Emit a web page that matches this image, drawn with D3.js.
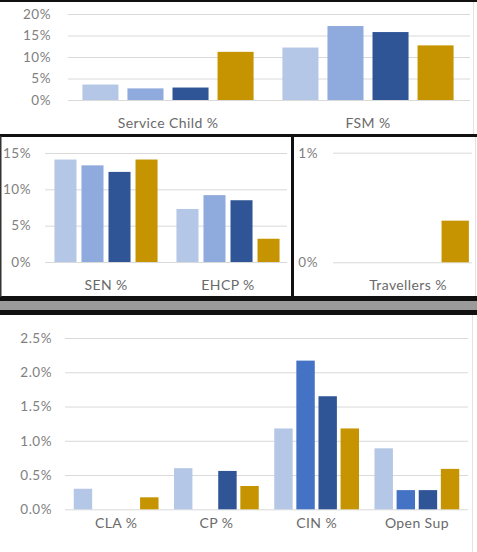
<!DOCTYPE html>
<html>
<head>
<meta charset="utf-8">
<script src="https://cdn.jsdelivr.net/npm/d3@7"></script>
<style>
  html, body { margin: 0; padding: 0; background: #fff; }
  svg { display: block; }
  text { font-family: Lato, "Open Sans", sans-serif; }
</style>
</head>
<body>
<svg id="chart" width="477" height="552"></svg>
<script>
// Four series per category: three comparison groups (blues) and the school (gold)
const seriesNames = ["Group A", "Group B", "Group C", "School"];

// Pupil characteristics
const pupilCategories = ["Service Child %", "FSM %"];
const pupilValues = [[3.6, 2.7, 2.9, 11.2], [12.2, 17.2, 15.8, 12.7]];
const pupilTicks = [0, 5, 10, 15, 20];

// Special educational needs
const senCategories = ["SEN %", "EHCP %"];
const senValues = [[14.1, 13.3, 12.4, 14.1], [7.3, 9.2, 8.5, 3.2]];
const senTicks = [0, 5, 10, 15];

// Travellers
const travCategories = ["Travellers %"];
const travValues = [[0, 0, 0, 0.38]];
const travTicks = [0, 1];

// Social care
const careCategories = ["CLA %", "CP %", "CIN %", "Open Sup"];
const careValues = [[0.30, 0, 0, 0.175], [0.60, 0, 0.56, 0.34], [1.18, 2.17, 1.65, 1.18], [0.89, 0.28, 0.28, 0.59]];
const careTicks = [0, 0.5, 1.0, 1.5, 2.0, 2.5];

const coloursTop = ["#b4c7e7", "#8faadc", "#2f5597", "#c59400"];
const coloursCare = ["#b4c7e7", "#4472c4", "#2f5597", "#c59400"];

const svg = d3.select("#chart");

function drawPanel(o) {
  const g = svg.append("g");
  const y = d3.scaleLinear().domain(o.domain).range([o.y0, o.y1]);
  const x = d3.scaleBand().domain(o.categories).range(o.xRange).padding(0);
  const inner = d3.scaleBand().domain(d3.range(4)).range([0, x.bandwidth()])
    .paddingInner(o.padIn).paddingOuter(o.padOut);

  // gridlines
  g.append("g")
    .attr("transform", `translate(${o.gridX[0]},0)`)
    .call(d3.axisLeft(y).tickValues(o.ticks).tickSize(-(o.gridX[1] - o.gridX[0])).tickFormat(""))
    .call(a => a.select(".domain").remove())
    .call(a => a.selectAll("line").attr("stroke", "#d9d9d9").attr("stroke-width", 1));

  // tick labels
  g.append("g")
    .attr("transform", `translate(${o.labelX},0)`)
    .call(d3.axisLeft(y).tickValues(o.ticks).tickSize(0).tickPadding(0).tickFormat(o.fmt))
    .call(a => a.select(".domain").remove())
    .call(a => a.selectAll("text").attr("fill", "#808080")
      .style("font-size", "13.5px").style("letter-spacing", "0.5px"));

  // bars
  const groups = g.selectAll(".cat").data(o.categories.map((c, i) => ({ c, v: o.values[i] })))
    .join("g").attr("transform", d => `translate(${x(d.c)},0)`);
  groups.selectAll("rect").data(d => d.v.map((v, k) => ({ v, k })))
    .join("rect")
    .attr("x", d => inner(d.k))
    .attr("width", inner.bandwidth())
    .attr("y", d => y(d.v))
    .attr("height", d => y(0) - y(d.v))
    .attr("fill", d => o.colours[d.k]);

  // category labels
  g.append("g")
    .attr("transform", `translate(0,${o.y0 + o.catDy})`)
    .call(d3.axisBottom(x).tickSize(0).tickPadding(0))
    .call(a => a.select(".domain").remove())
    .call(a => a.selectAll("text").attr("fill", "#6a6a6a").attr("dy", "0.35em").attr("y", 0)
      .attr("dx", o.catDx || 0).style("font-size", "14px").style("letter-spacing", "0.4px"));
}

const pct0 = d => d + "%";
const pct1 = d => d3.format(".1f")(d) + "%";

drawPanel({ categories: pupilCategories, values: pupilValues, ticks: pupilTicks, domain: [0, 20],
  y0: 100, y1: 14, xRange: [68, 468], gridX: [68, 470], labelX: 51, padIn: 0.2, padOut: 0.32,
  colours: coloursTop, fmt: pct0, catDy: 23 });

drawPanel({ categories: senCategories, values: senValues, ticks: senTicks, domain: [0, 15],
  y0: 262, y1: 153, xRange: [45, 289], gridX: [45, 287], labelX: 31, padIn: 0.185, padOut: 0.35,
  colours: coloursTop, fmt: pct0, catDy: 23 });

drawPanel({ categories: travCategories, values: travValues, ticks: travTicks, domain: [0, 1],
  y0: 262.3, y1: 152.7, xRange: [334, 474], gridX: [333, 472], labelX: 318, padIn: 0.2, padOut: 0.15,
  colours: coloursTop, fmt: pct0, catDy: 23, catDx: 4 });

drawPanel({ categories: careCategories, values: careValues, ticks: careTicks, domain: [0, 2.5],
  y0: 509.3, y1: 338, xRange: [66, 467], gridX: [65, 468], labelX: 52, padIn: 0.167, padOut: 0.35,
  colours: coloursCare, fmt: pct1, catDy: 14 });

// panel frames
const frame = svg.append("g");
frame.append("rect").attr("x", 0).attr("y", 0).attr("width", 477).attr("height", 2).attr("fill", "#111");
frame.append("rect").attr("x", 0).attr("y", 134).attr("width", 477).attr("height", 3).attr("fill", "#111");
frame.append("rect").attr("x", 291).attr("y", 136).attr("width", 3).attr("height", 162).attr("fill", "#111");
frame.append("rect").attr("x", 0).attr("y", 296).attr("width", 477).attr("height", 19).attr("fill", "#111");
frame.append("rect").attr("x", 0).attr("y", 301).attr("width", 477).attr("height", 9).attr("fill", "#9a9a9a");
frame.append("rect").attr("x", 0).attr("y", 136).attr("width", 1.5).attr("height", 161).attr("fill", "#333");
frame.append("line").attr("x1", 473.5).attr("x2", 473.5).attr("y1", 2).attr("y2", 134).attr("stroke", "#e2e2e2");
frame.append("line").attr("x1", 475.5).attr("x2", 475.5).attr("y1", 137).attr("y2", 296).attr("stroke", "#e2e2e2");
frame.append("line").attr("x1", 472.5).attr("x2", 472.5).attr("y1", 315).attr("y2", 552).attr("stroke", "#e2e2e2");
</script>
</body>
</html>
